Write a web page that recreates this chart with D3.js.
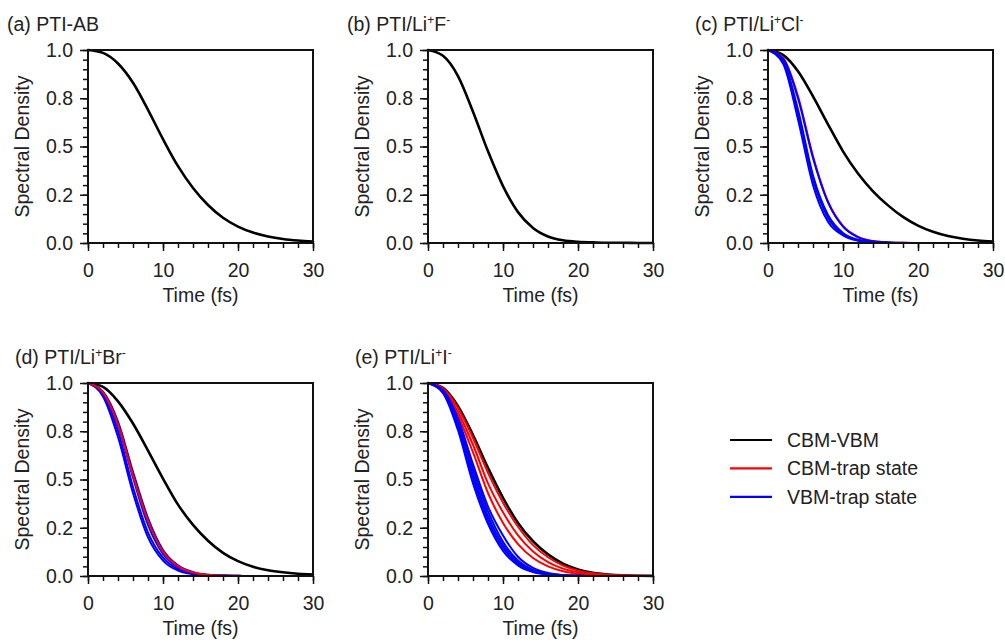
<!DOCTYPE html>
<html>
<head>
<meta charset="utf-8">
<script src="https://cdn.jsdelivr.net/npm/d3@7"></script>
<style>
  html, body { margin: 0; padding: 0; background: #fff; }
  svg { display: block; font-family: "Liberation Sans", Arial, Helvetica, sans-serif; }
  .tick-label-text, .axis-title-text, .panel-title, .legend-text { fill: #222; font-size: 19.5px; }
  .axis .tick line { stroke: #111; stroke-width: 1.5; }
  .frame { fill: none; stroke: #111; stroke-width: 2; }
  .curve { fill: none; stroke-linejoin: round; stroke-linecap: round; }
</style>
</head>
<body>
<div id="chart"></div>
<script>
// time axis (fs), sampled every 2 fs
const timeFs = [0, 2, 4, 6, 8, 10, 12, 14, 16, 18, 20, 22, 24, 26, 28, 30];

const xTickValues = [0, 10, 20, 30];
const xTickLabels = ["0", "10", "20", "30"];
const yTickValues = [0, 0.25, 0.5, 0.75, 1];
const yTickLabels = ["0.0", "0.2", "0.5", "0.8", "1.0"];

const seriesNames = ["CBM-VBM", "CBM-trap state", "VBM-trap state"];
const seriesColors = ["#000000", "#ff0000", "#0000ff"];

// (a) PTI-AB
const aCbmVbm = [1.000, 0.985, 0.930, 0.830, 0.690, 0.538, 0.398, 0.285, 0.197, 0.131, 0.085, 0.054, 0.034, 0.021, 0.013, 0.008];

// (b) PTI/Li+F-
const bCbmVbm = [1.000, 0.970, 0.865, 0.680, 0.475, 0.295, 0.160, 0.078, 0.034, 0.014, 0.006, 0.003, 0.001, 0.001, 0.000, 0.000];

// (c) PTI/Li+Cl-
const cCbmVbm = [1.000, 0.975, 0.890, 0.760, 0.615, 0.475, 0.360, 0.268, 0.195, 0.135, 0.090, 0.058, 0.036, 0.022, 0.013, 0.008];
const cCbmTrap = [
  [1.000, 0.960, 0.760, 0.450, 0.215, 0.088, 0.032, 0.010, 0.003, 0.001, 0, 0, 0, 0, 0, 0],
];
const cVbmTrap = [
  [1.000, 0.930, 0.640, 0.300, 0.110, 0.040, 0.012, 0.003, 0.001, 0, 0, 0, 0, 0, 0, 0],
  [1.000, 0.940, 0.670, 0.330, 0.130, 0.045, 0.014, 0.004, 0.001, 0, 0, 0, 0, 0, 0, 0],
  [1.000, 0.945, 0.690, 0.350, 0.145, 0.052, 0.017, 0.005, 0.001, 0, 0, 0, 0, 0, 0, 0],
  [1.000, 0.955, 0.750, 0.440, 0.210, 0.085, 0.030, 0.009, 0.003, 0.001, 0, 0, 0, 0, 0, 0],
];

// (d) PTI/Li+Br-
const dCbmVbm = [1.000, 0.980, 0.905, 0.790, 0.650, 0.505, 0.370, 0.265, 0.183, 0.120, 0.077, 0.048, 0.030, 0.019, 0.012, 0.008];
const dVbmTrap = [
  [1.000, 0.930, 0.720, 0.430, 0.200, 0.080, 0.028, 0.009, 0.003, 0.001, 0, 0, 0, 0, 0, 0],
  [1.000, 0.940, 0.750, 0.460, 0.225, 0.095, 0.035, 0.012, 0.004, 0.001, 0, 0, 0, 0, 0, 0],
  [1.000, 0.950, 0.780, 0.510, 0.265, 0.115, 0.045, 0.016, 0.005, 0.002, 0.001, 0, 0, 0, 0, 0],
  [1.000, 0.955, 0.800, 0.540, 0.300, 0.135, 0.055, 0.020, 0.007, 0.002, 0.001, 0, 0, 0, 0, 0],
];
const dCbmTrap = [
  [1.000, 0.950, 0.785, 0.520, 0.285, 0.125, 0.050, 0.018, 0.006, 0.002, 0.001, 0, 0, 0, 0, 0],
];

// (e) PTI/Li+I-
const eCbmVbm = [1.000, 0.975, 0.880, 0.730, 0.560, 0.405, 0.275, 0.180, 0.112, 0.064, 0.034, 0.017, 0.008, 0.003, 0.001, 0.0005];
const eCbmTrap = [
  [1.000, 0.972, 0.870, 0.715, 0.535, 0.380, 0.255, 0.160, 0.097, 0.054, 0.028, 0.014, 0.007, 0.003, 0.001, 0],
  [1.000, 0.966, 0.850, 0.680, 0.480, 0.330, 0.210, 0.127, 0.072, 0.038, 0.019, 0.009, 0.004, 0.002, 0.001, 0],
  [1.000, 0.960, 0.830, 0.640, 0.430, 0.275, 0.165, 0.093, 0.050, 0.025, 0.012, 0.006, 0.003, 0.001, 0, 0],
];
const eVbmTrap = [
  [1.000, 0.948, 0.755, 0.480, 0.270, 0.130, 0.055, 0.020, 0.007, 0.002, 0.001, 0, 0, 0, 0, 0],
  [1.000, 0.952, 0.770, 0.505, 0.290, 0.145, 0.063, 0.024, 0.008, 0.003, 0.001, 0, 0, 0, 0, 0],
  [1.000, 0.955, 0.785, 0.530, 0.310, 0.160, 0.071, 0.028, 0.010, 0.003, 0.001, 0, 0, 0, 0, 0],
  [1.000, 0.958, 0.800, 0.555, 0.335, 0.178, 0.080, 0.032, 0.012, 0.004, 0.001, 0, 0, 0, 0, 0],
  [1.000, 0.962, 0.815, 0.580, 0.360, 0.210, 0.100, 0.042, 0.016, 0.005, 0.001, 0, 0, 0, 0, 0],
];

// title pieces: [text, isSuperscript]
const panels = [
  { title: [["(a) PTI-AB"]], col: 0, row: 0, titleX: 7,
    series: [[0, aCbmVbm]] },
  { title: [["(b) PTI/Li"], ["+", 1], ["F"], ["-", 1]], col: 1, row: 0, titleX: 347,
    series: [[0, bCbmVbm]] },
  { title: [["(c) PTI/Li"], ["+", 1], ["Cl"], ["-", 1]], col: 2, row: 0, titleX: 695,
    series: [[0, cCbmVbm], ...cCbmTrap.map((v) => [1, v]), ...cVbmTrap.map((v) => [2, v])] },
  { title: [["(d) PTI/Li"], ["+", 1], ["Br"], ["-", 1]], col: 0, row: 1, titleX: 15,
    series: [[0, dCbmVbm], ...dVbmTrap.map((v) => [2, v]), ...dCbmTrap.map((v) => [1, v])] },
  { title: [["(e) PTI/Li"], ["+", 1], ["I"], ["-", 1]], col: 1, row: 1, titleX: 355,
    series: [[0, eCbmVbm], ...eCbmTrap.map((v) => [1, v]), ...eVbmTrap.map((v) => [2, v])] },
];

const width = 1005;
const height = 640;
const plotW = 225;
const plotH = 193;
const colLeft = [88, 428, 768];
const rowTop = [50, 383];

const svg = d3.select("#chart").append("svg")
  .attr("width", width)
  .attr("height", height)
  .attr("viewBox", [0, 0, width, height]);

const x = d3.scaleLinear().domain([0, 30]).range([0, plotW]);
const y = d3.scaleLinear().domain([0, 1]).range([plotH, 0]);
const line = d3.line()
  .x((d) => x(d[0]))
  .y((d) => y(d[1]))
  .curve(d3.curveMonotoneX);

const xMinor = d3.range(0, 31, 2);
const yMinor = d3.range(0, 21).map((i) => i * 0.05);

panels.forEach((p) => {
  const g = svg.append("g")
    .attr("transform", `translate(${colLeft[p.col]},${rowTop[p.row]})`);

  // minor ticks
  g.append("g")
    .attr("class", "axis")
    .call(d3.axisLeft(y).tickValues(yMinor).tickSize(5).tickFormat(""))
    .call((a) => a.select(".domain").remove());
  g.append("g")
    .attr("class", "axis")
    .attr("transform", `translate(0,${plotH})`)
    .call(d3.axisBottom(x).tickValues(xMinor).tickSize(5).tickFormat(""))
    .call((a) => a.select(".domain").remove());

  // major ticks + labels
  g.append("g")
    .attr("class", "axis axis--y")
    .call(d3.axisLeft(y).tickValues(yTickValues).tickSize(8).tickPadding(7)
      .tickFormat((d, i) => yTickLabels[i]))
    .call((a) => a.select(".domain").remove())
    .call((a) => a.selectAll(".tick text").attr("class", "tick-label-text")
      .attr("fill", null).attr("font-size", null).attr("font-family", null));
  g.append("g")
    .attr("class", "axis axis--x")
    .attr("transform", `translate(0,${plotH})`)
    .call(d3.axisBottom(x).tickValues(xTickValues).tickSize(8).tickPadding(12)
      .tickFormat((d, i) => xTickLabels[i]))
    .call((a) => a.select(".domain").remove())
    .call((a) => a.selectAll(".tick text").attr("class", "tick-label-text")
      .attr("fill", null).attr("font-size", null).attr("font-family", null));

  // curves
  g.append("g")
    .selectAll(".curve")
    .data(p.series)
    .join("path")
    .attr("class", "curve")
    .attr("stroke", (s) => seriesColors[s[0]])
    .attr("stroke-width", (s) => (s[0] === 0 ? 2.6 : 2))
    .attr("d", (s) => line(timeFs.map((t, i) => [t, s[1][i]])));

  // frame
  g.append("rect")
    .attr("class", "frame")
    .attr("width", plotW)
    .attr("height", plotH);

  // axis titles
  g.append("text")
    .attr("class", "axis-title-text")
    .attr("text-anchor", "middle")
    .attr("transform", `translate(-59,${plotH / 2}) rotate(-90)`)
    .text("Spectral Density");
  g.append("text")
    .attr("class", "axis-title-text")
    .attr("text-anchor", "middle")
    .attr("x", plotW / 2)
    .attr("y", plotH + 59)
    .text("Time (fs)");

  // panel title with superscripts
  const title = svg.append("text")
    .attr("class", "panel-title")
    .attr("x", p.titleX)
    .attr("y", rowTop[p.row] - 19);
  let raised = false;
  p.title.forEach(([txt, sup]) => {
    const ts = title.append("tspan").text(txt);
    if (sup && !raised) {
      ts.attr("dy", -7).attr("font-size", "12px");
      raised = true;
    } else if (sup) {
      ts.attr("font-size", "12px");
    } else if (raised) {
      ts.attr("dy", 7);
      raised = false;
    }
  });
});

// legend
const legend = svg.append("g")
  .attr("class", "legend")
  .attr("transform", "translate(730,440)");
const legendRow = legend.selectAll(".legend-row")
  .data(seriesNames)
  .join("g")
  .attr("class", "legend-row")
  .attr("transform", (d, i) => `translate(0,${i * 28.4})`);
legendRow.append("line")
  .attr("x2", 42)
  .attr("stroke", (d, i) => seriesColors[i])
  .attr("stroke-width", 2.2);
legendRow.append("text")
  .attr("class", "legend-text")
  .attr("x", 57)
  .attr("dy", "0.36em")
  .text((d) => d);
</script>
</body>
</html>
